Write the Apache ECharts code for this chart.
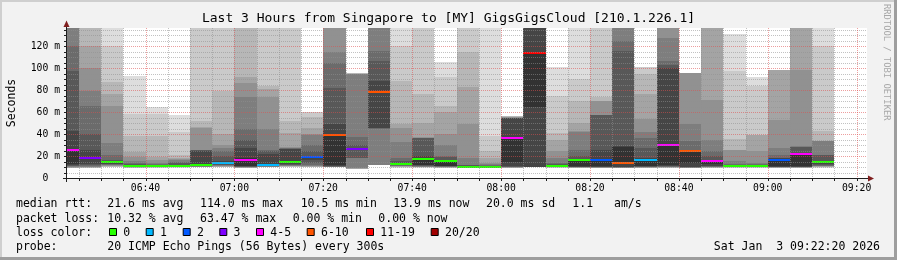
<!DOCTYPE html>
<html><head><meta charset="utf-8">
<script src="https://cdn.jsdelivr.net/npm/echarts@6/dist/echarts.min.js"></script>
<style>html,body{margin:0;padding:0;background:#f2f2f2}#c{width:897px;height:260px}</style>
</head><body><div id="c"></div>
<script>
// ---------- data ----------
const barTimes = ['06:20','06:25','06:30','06:35','06:40','06:45','06:50','06:55','07:00','07:05','07:10','07:15',
  '07:20','07:25','07:30','07:35','07:40','07:45','07:50','07:55','08:00','08:05','08:10','08:15',
  '08:20','08:25','08:30','08:35','08:40','08:45','08:50','08:55','09:00','09:05','09:10'];
const medians = [25.1,17.8,14.2,10.5,11.2,11.4,12.3,13.3,16.8,12.1,14.2,18.7,
  38.8,26.6,78.1,13.2,17.0,15.2,10.3,10.1,36.8,114.2,11.4,16.0,
  16.2,14.0,16.8,30.5,24.2,15.1,11.4,11.4,16.2,21.5,14.2];
const losses = [4,3,0,0,0,0,0,1,4,1,0,2,7,3,7,0,0,0,0,0,4,13,0,0,2,7,1,4,7,4,0,0,2,4,0];
// 20 sorted pings per step (ms); null = lost ping; 140 = above graph top
const pingSets = [
  [null,null,9.1,9.4,9.8,10.3,10.8,11.2,11.6,12.5,25.1,43.3,97.8,120.7,140,140,140,140,null,null],
  [null,9.0,9.1,9.6,9.9,10.3,10.8,11.5,12.7,17.6,18.1,25.7,40.3,66,79.7,100,120.6,140,null,null],
  [9.6,9.9,10.2,10.6,11,11.5,12.2,12.6,13,13.9,14.3,15,16,21,31.5,66,76.3,87.2,120.6,140],
  [9.2,9.4,9.5,9.6,9.7,9.8,9.9,10,10.1,10.3,10.6,11.5,12.7,13.5,15.1,19,24,38.5,58.5,93.3],
  [9.2,9.5,9.7,9.9,10,10.2,10.4,10.6,10.8,11,11.2,11.6,12,12.6,13.4,16.3,19.5,37.9,58.5,65],
  [9.3,9.6,9.8,10,10.2,10.4,10.6,10.8,11,11.2,11.5,12.3,13.3,14.5,16.5,17,18.5,21,42,57.8],
  [9.6,9.8,9.9,10,10.2,10.4,10.7,11,11.5,12.2,12.6,25,25.2,25.5,25.7,45.5,46.3,52.4,140,140],
  [9.6,9.8,10,10.3,10.6,11,11.5,12,12.5,13.1,13.5,15.1,20,24.8,27,30.3,40,79.7,140,null],
  [null,null,9.2,9.4,9.6,9.8,10,10.2,10.5,10.8,18,27,35,45,74.2,86.3,91.8,140,null,null],
  [9.4,9.6,9.8,10,10.2,10.4,10.7,11,11.5,12,12.3,22,25,25.5,44.8,73.6,81.2,84.2,140,null],
  [9.6,9.9,10.2,10.5,10.9,11.3,11.8,12.3,13,14,14.5,26,26.5,27,27.5,28,41,52,140,140],
  [null,9.7,10,10.3,10.7,11.2,12,13.5,16,18.4,19,20.5,24.2,30,39.5,40.5,46,55.4,60,null],
  [null,null,null,9.6,9.8,10,10.2,10.5,10.8,12,39,49.4,82,105,115,140,null,null,null,null],
  [null,8.0,8.2,8.5,8.8,9.1,18,18.3,26.2,26.5,26.8,27.2,30.3,37,94.8,95,95.2,95.4,null,null],
  [null,null,null,11.8,12,12.1,45,45.4,46,78,78.4,88.5,106.4,115.7,140,140,null,null,null,null],
  [9.5,9.8,10,10.2,10.5,10.8,11.2,11.6,12.2,13,13.4,14,15.1,18,33,45.7,49.4,88.8,120.6,140],
  [9.4,9.6,9.8,10,10.2,10.4,10.7,11,11.5,12.1,17.2,19.7,36.2,36.3,36.5,37,50,76.6,140,140],
  [9.1,9.3,9.5,9.6,9.8,10,10.2,10.5,10.8,11.2,15.3,16,19,19.7,30.3,40,60,66,91.8,105.4],
  [9.1,9.3,9.4,9.5,9.6,9.7,9.8,9.9,10,10.2,10.4,11,11.5,12.1,18.1,49,82.7,114.5,140,140],
  [9.0,9.2,9.3,9.4,9.5,9.6,9.7,9.8,9.9,10,10.3,10.6,11,11.5,12.7,14,18,25,38,140],
  [null,null,9.1,9.5,9.8,10,10.2,10.4,10.6,15,37,54.8,54.9,55,55.1,55.3,55.5,56.5,null,null],
  [null,null,null,null,null,null,9.8,10,10.2,65,114.5,140,140,null,null,null,null,null,null,null],
  [9.2,9.4,9.6,9.8,10,10.2,10.4,10.6,10.9,11.2,11.5,12,12.6,13.6,18.1,24.2,34.8,41,75,101],
  [9.1,9.2,9.4,9.5,9.6,9.7,9.9,10.1,10.3,10.6,16.2,16.6,19.7,25.7,42,43,50,69.9,90.3,140],
  [null,9.1,9.2,9.4,9.5,9.7,9.9,10.1,10.3,10.6,16.5,25.7,57.2,57.5,57.8,70,70.5,74.2,140,null],
  [null,null,null,9.3,9.4,9.5,9.6,9.8,10,14.2,28.5,28.8,116,125.1,140,140,null,null,null,null],
  [9.1,9.2,9.3,9.5,9.6,9.8,10,10.2,10.5,11,17,18.5,27.2,36.3,42.4,54,76.6,94.8,100.9,null],
  [null,null,9.4,9.6,9.8,10,10.2,10.5,11,12,30.8,100,103,106.5,127.5,140,140,140,null,null],
  [null,null,null,9.3,9.4,9.5,9.6,9.8,10,13.6,24.4,24.6,25,33.3,49.4,95.7,null,null,null,null],
  [null,null,9.4,9.6,9.8,10,10.2,10.5,11,13,15.3,16.6,20,24.2,34.8,71,140,140,null,null],
  [9.2,9.5,9.8,10,10.2,10.4,10.6,10.8,11,11.3,11.6,11.9,12.2,12.7,15.1,25.5,25.7,36,97.8,131],
  [9.2,9.5,9.8,10,10.2,10.4,10.6,10.8,11,11.2,11.5,11.8,12,12.5,13.6,24.2,39,39.4,84.2,91.8],
  [null,9.2,9.4,9.5,9.6,9.7,9.9,10.1,10.3,10.6,16.5,18,18.2,21.2,27,53,98.6,98.7,98.8,null],
  [null,null,9.2,9.4,9.6,9.7,9.9,10.1,10.3,10.6,21.7,22.7,28.3,28.5,28.8,98.5,140,140,null,null],
  [9.4,9.7,10,10.2,10.5,10.8,11.2,11.8,12.5,13.5,14.4,15.1,21,21.2,33.3,33.4,33.5,43,120.6,140]
];
const xTickLabels = ['06:40','07:00','07:20','07:40','08:00','08:20','08:40','09:00','09:20'];
const yTickValues = [0,20,40,60,80,100,120];
const lossBuckets = [0,1,2,3,5,10,19,20];
const lossColorList = ['#26ff00','#00b8ff','#0059ff','#7e00ff','#ff00ff','#ff5500','#ff0000','#a10000'];
const lossLabels = ['0','1','2','3','4-5','6-10','11-19','20/20'];
const rangeStart = '06:22:20', rangeEnd = '09:22:20';
const STEP = 300;
const Y_MAX = 136.8;
const statLines = [
  [['median rtt:',16],['21.6 ms avg',107.3],['114.0 ms max',200],['10.5 ms min',300.7],['13.9 ms now',393.3],['20.0 ms sd',486],['1.1',572.3],['am/s',614]],
  [['packet loss:',16],['10.32 % avg',107.3],['63.47 % max',200],['0.00 % min',292.7],['0.00 % now',378.3]]
];
const titleText = 'Last 3 Hours from Singapore to [MY] GigsGigsCloud [210.1.226.1]';
const probeText = '20 ICMP Echo Pings (56 Bytes) every 300s';
const dateText = 'Sat Jan  3 09:22:20 2026';

// ---------- helpers ----------
function toSec(s){const p=s.split(':').map(Number);return p[0]*3600+p[1]*60+(p[2]||0);}
function fmt(v){const h=Math.floor(v/3600),m=Math.round((v%3600)/60);return String(h).padStart(2,'0')+':'+String(m).padStart(2,'0');}
function lossColor(n){for(let i=0;i<lossBuckets.length;i++){if(n<=lossBuckets[i])return lossColorList[i];}return lossColorList[lossColorList.length-1];}
const X_MIN = toSec(rangeStart), X_MAX = toSec(rangeEnd);
const MONO = '"DejaVu Sans Mono", "Liberation Mono", monospace';
const MINOR = 'rgba(143,143,143,0.55)';
const MAJOR = 'rgba(222,79,79,0.55)';

const chart = echarts.init(document.getElementById('c'), null, {renderer:'canvas'});

function smokeItem(params, api){
  const i = params.dataIndex;
  const ps = pingSets[i];
  const cs = params.coordSys;
  const t0 = api.value(0), t1 = api.value(2);
  let x0 = Math.round(api.coord([t0, 0])[0]);
  let x1 = Math.round(api.coord([t1, 0])[0]);
  x0 = Math.max(x0, cs.x); x1 = Math.min(x1, cs.x + cs.width);
  if (x1 <= x0) return null;
  const yOf = v => Math.round(api.coord([t0, Math.min(v, Y_MAX)])[1]);
  const ch = [];
  for (let k = 1; k <= 10; k++){
    const lo = ps[k-1], hi = ps[20-k];
    if (lo == null || hi == null) continue;
    const g = Math.floor(190/10*(10-k)) + 50;
    const yt = yOf(hi), yb = yOf(lo);
    if (yb - yt <= 0) continue;
    ch.push({type:'rect', shape:{x:x0, y:yt, width:x1-x0, height:yb-yt}, style:{fill:'rgb('+g+','+g+','+g+')'}});
  }
  const ym = yOf(api.value(1));
  ch.push({type:'rect', shape:{x:x0, y:ym-1, width:x1-x0, height:2}, style:{fill:lossColor(losses[i])}});
  return {type:'group', children:ch};
}

function gridItem(params, api){
  const cs = params.coordSys;
  const L = cs.x, R = cs.x + cs.width, T = cs.y, B = cs.y + cs.height;
  const ch = [];
  for (let v = 5; v < Y_MAX; v += 5){
    const y = Math.round(api.coord([X_MIN, v])[1]) + 0.5;
    const major = v % 20 === 0;
    ch.push({type:'line', shape:{x1:L, y1:y, x2:R, y2:y}, style:{stroke: major?MAJOR:MINOR, lineWidth:1, lineDash:[1,1]}});
    ch.push({type:'line', shape:{x1:L-3, y1:y, x2:L-1, y2:y}, style:{stroke:'#1f1f1f', lineWidth:1}});
  }
  for (let t = Math.ceil(X_MIN/STEP)*STEP; t <= X_MAX; t += STEP){
    const x = Math.round(api.coord([t, 0])[0]) + 0.5;
    const major = t % 1200 === 0;
    ch.push({type:'line', shape:{x1:x, y1:T, x2:x, y2:B}, style:{stroke: major?MAJOR:MINOR, lineWidth:1, lineDash:[1,1]}});
    ch.push({type:'line', shape:{x1:x, y1:B+1, x2:x, y2:B+3}, style:{stroke:'#1f1f1f', lineWidth:1}});
  }
  return {type:'group', children:ch};
}

// ---------- decoration ----------
const graphics = [];
graphics.push({type:'rect', shape:{x:0,y:0,width:897,height:260}, style:{fill:'#f2f2f2'}, z:-10});
graphics.push({type:'rect', shape:{x:0,y:0,width:897,height:2}, style:{fill:'#cfcfcf'}, z:-9});
graphics.push({type:'rect', shape:{x:0,y:0,width:2,height:260}, style:{fill:'#cfcfcf'}, z:-9});
graphics.push({type:'rect', shape:{x:0,y:257,width:897,height:3}, style:{fill:'#9e9e9e'}, z:-9});
graphics.push({type:'rect', shape:{x:894,y:0,width:3,height:260}, style:{fill:'#9e9e9e'}, z:-9});
graphics.push({type:'rect', shape:{x:67,y:28,width:800,height:150}, style:{fill:'#ffffff'}, z:-8});
// axes
graphics.push({type:'rect', shape:{x:66,y:26,width:1,height:156}, style:{fill:'#1f1f1f'}, z:50});
graphics.push({type:'rect', shape:{x:63,y:178,width:806,height:1}, style:{fill:'#1f1f1f'}, z:50});
graphics.push({type:'polygon', shape:{points:[[66.5,20.5],[63.5,27],[69.5,27]]}, style:{fill:'#801f1f'}, z:51});
graphics.push({type:'polygon', shape:{points:[[874,178.5],[868,175.5],[868,181.5]]}, style:{fill:'#801f1f'}, z:51});
// title & side texts
graphics.push({type:'text', x:448.5, y:19, style:{text:titleText, fontFamily:MONO, fontSize:13, fill:'#000', align:'center', verticalAlign:'middle'}, z:50});
graphics.push({type:'text', x:886, y:4, rotation:-Math.PI/2, style:{text:'RRDTOOL / TOBI OETIKER', fontFamily:MONO, fontSize:8.8, fill:'#a8a8a8', align:'left', verticalAlign:'middle'}, z:50});
// stat lines
const lineY = [204.3, 218.6, 232.6, 246.6];
statLines.forEach((items, li) => items.forEach(([t,x]) => graphics.push({type:'text', x:x, y:lineY[li], style:{text:t, fontFamily:MONO, fontSize:11.5, fill:'#000', align:'left', verticalAlign:'middle'}, z:50})));
graphics.push({type:'text', x:16, y:lineY[2], style:{text:'loss color:', fontFamily:MONO, fontSize:11.5, fill:'#000', verticalAlign:'middle'}, z:50});
const boxX = [109,145.7,182.7,219.3,256,306.7,366,430.7];
lossLabels.forEach((lab, i) => {
  graphics.push({type:'rect', shape:{x:boxX[i]+0.5, y:228.5, width:7, height:7}, style:{fill:lossColorList[i], stroke:'#000', lineWidth:1}, z:50});
  graphics.push({type:'text', x:boxX[i]+14.3, y:lineY[2], style:{text:lab, fontFamily:MONO, fontSize:11.5, fill:'#000', verticalAlign:'middle'}, z:50});
});
graphics.push({type:'text', x:16, y:lineY[3], style:{text:'probe:', fontFamily:MONO, fontSize:11.5, fill:'#000', verticalAlign:'middle'}, z:50});
graphics.push({type:'text', x:107.3, y:lineY[3], style:{text:probeText, fontFamily:MONO, fontSize:11.5, fill:'#000', verticalAlign:'middle'}, z:50});
graphics.push({type:'text', x:880, y:lineY[3], style:{text:dateText, fontFamily:MONO, fontSize:11.5, fill:'#000', align:'right', verticalAlign:'middle'}, z:50});

chart.setOption({
  animation:false,
  backgroundColor:'#f2f2f2',
  graphic: graphics,
  grid:{left:67, top:28, width:800, height:150, containLabel:false, outerBoundsMode:'none'},
  xAxis:{type:'value', min:X_MIN, max:X_MAX,
    axisLine:{show:false}, axisTick:{show:false}, splitLine:{show:false},
    axisLabel:{customValues: xTickLabels.map(toSec), formatter: v => fmt(v), fontFamily:MONO, fontSize:9.75, color:'#000', margin:5}
  },
  yAxis:{type:'value', min:0, max:Y_MAX, interval:20,
    name:'Seconds', nameLocation:'middle', nameGap:49, nameRotate:90,
    nameTextStyle:{fontFamily:MONO, fontSize:11.5, color:'#000'},
    axisLine:{show:false}, axisTick:{show:false}, splitLine:{show:false},
    axisLabel:{customValues: yTickValues, formatter: v => v===0 ? '0\u00a0\u00a0' : v+' m', fontFamily:MONO, fontSize:9.75, color:'#000', margin:7}
  },
  series:[
    {type:'custom', name:'smoke', renderItem:smokeItem, silent:true, z:2,
     data: barTimes.map((t,i) => [toSec(t), medians[i], toSec(t)+STEP])},
    {type:'custom', name:'grid', renderItem:gridItem, silent:true, z:3, data:[[X_MIN, 0]]}
  ]
});
</script></body></html>
